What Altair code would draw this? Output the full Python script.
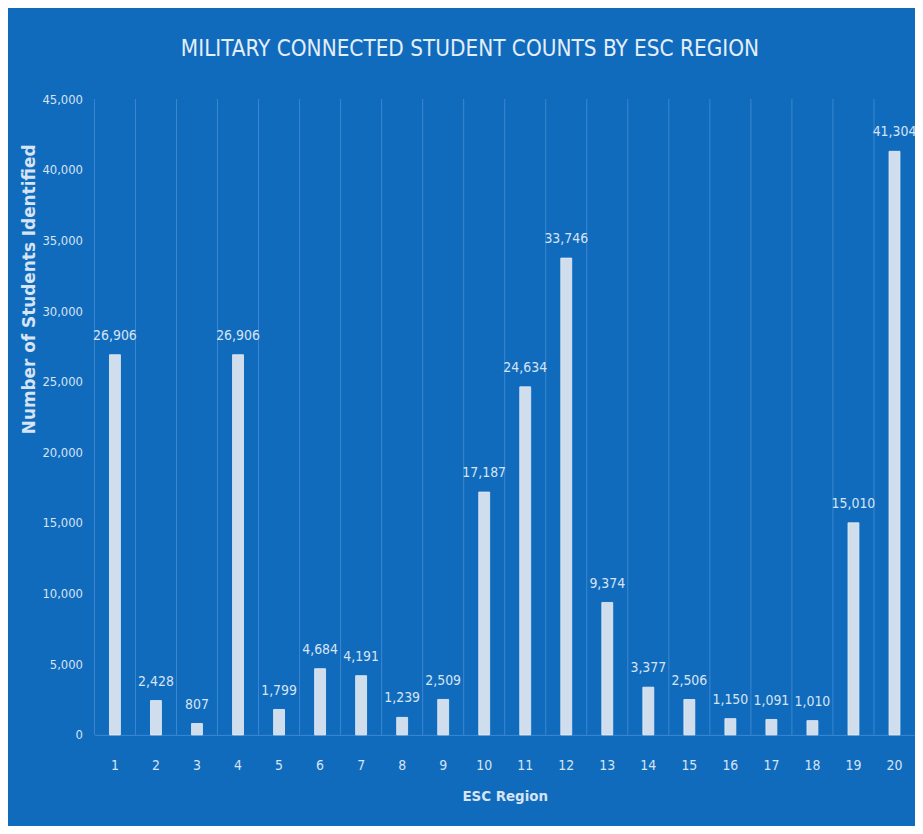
import altair as alt
import pandas as pd

regions = [str(i) for i in range(1, 21)]
counts = [26906, 2428, 807, 26906, 1799, 4684, 4191, 1239, 2509, 17187,
          24634, 33746, 9374, 3377, 2506, 1150, 1091, 1010, 15010, 41304]

df = pd.DataFrame({"region": regions, "count": counts})

NARROW = "Liberation Sans Narrow, DejaVu Sans Condensed, Arial Narrow, sans-serif"
BG = "#116bbd"
LIGHT = "#d6e4f3"
GRID = "#3a88d0"

xscale = alt.Scale(paddingInner=0, paddingOuter=0)
xaxis = alt.Axis(title="ESC Region", labelAngle=0, ticks=False, grid=False,
                 domain=True, domainColor=GRID, labelPadding=24,
                 labelFont=NARROW, labelFontSize=14, labelColor=LIGHT,
                 titleFont=NARROW, titleFontSize=15, titleFontWeight="bold",
                 titleColor=LIGHT, titlePadding=16)
yscale = alt.Scale(domain=[0, 45000], nice=False)
yaxis = alt.Axis(title="Number of Students Identified", values=list(range(0, 45001, 5000)),
                 format=",d", ticks=False, grid=False, domain=False,
                 labelPadding=12, labelFont=NARROW, labelFontSize=13, labelColor=LIGHT,
                 titleFont="DejaVu Sans", titleFontSize=17, titleFontWeight="bold",
                 titleColor=LIGHT, titleX=-65, titleY=191, titleAngle=-90,
                 titleAlign="center", titleBaseline="middle")

base = alt.Chart(df)

grid = base.mark_rule(color=GRID, strokeWidth=1).encode(
    x=alt.X("region:N", sort=regions, bandPosition=0, scale=xscale, axis=xaxis)
)

bars = base.mark_bar(color="#d0ddec", stroke="#e6eef8", strokeWidth=0.8, size=11).encode(
    x=alt.X("region:N", sort=regions, scale=xscale, axis=xaxis),
    y=alt.Y("count:Q", scale=yscale, axis=yaxis),
)

labels = base.mark_text(dy=-12, baseline="bottom", font=NARROW, fontSize=14, color=LIGHT).encode(
    x=alt.X("region:N", sort=regions, scale=xscale, axis=xaxis),
    y=alt.Y("count:Q", scale=yscale, axis=yaxis),
    text=alt.Text("count:Q", format=",d"),
)

chart = alt.layer(grid, bars, labels).properties(
    width=826,
    height=640,
    padding={"left": 87, "top": 89, "right": 0, "bottom": 89},
    autosize="none",
    background=BG,
    title=alt.TitleParams(text="MILITARY CONNECTED STUDENT COUNTS BY ESC REGION",
                          font=NARROW, fontSize=22.5, fontWeight="normal", color="#e4eef9",
                          anchor="middle", frame="group", dx=-35, offset=33),
).configure_view(stroke=None)

chart.save("out.html", embed_options={"renderer": "svg", "actions": False})
